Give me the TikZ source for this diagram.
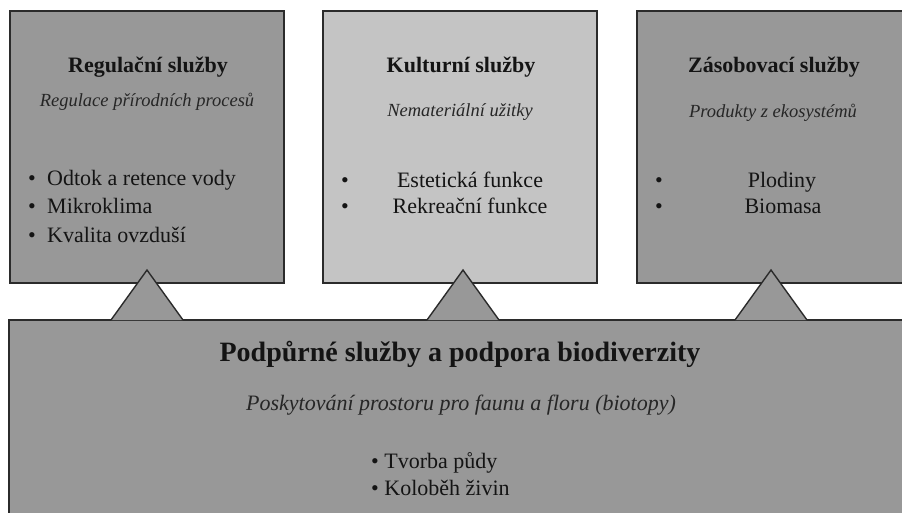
\documentclass[tikz,border=0pt]{standalone}
\usepackage{fontspec}
\setmainfont{Liberation Serif}
\usetikzlibrary{calc}
\definecolor{boxgray}{HTML}{989898}
\definecolor{lightgray}{HTML}{C4C4C4}
\definecolor{edgecol}{HTML}{2B2B2B}
\definecolor{txt}{HTML}{141414}
\definecolor{subtxt}{HTML}{262626}
\tikzset{
  svcbox/.style={draw=edgecol, line width=1.5pt, fill=boxgray, rectangle, minimum width=274pt, minimum height=272pt, inner sep=0pt},
  tri/.style={draw=edgecol, line width=1.4pt, fill=boxgray, line join=miter},
  ttl/.style={anchor=base, text=txt, inner sep=0pt, font=\fontsize{22}{26}\selectfont\bfseries},
  sub/.style={anchor=base, text=subtxt, inner sep=0pt, font=\fontsize{18.5}{22}\selectfont\itshape},
  itm/.style={anchor=base, text=txt, inner sep=0pt, font=\fontsize{22}{26}\selectfont},
  itml/.style={anchor=base west, text=txt, inner sep=0pt, font=\fontsize{22}{26}\selectfont},
}
\begin{document}
\begin{tikzpicture}[x=1pt,y=-1pt]
\useasboundingbox (0,0) rectangle (902,512);
\clip (0,0) rectangle (902,512);
\fill[white] (0,0) rectangle (902,512);
% upper boxes
\node[svcbox] (reg) at (147,147) {};
\node[svcbox, fill=lightgray] (kul) at (460,147) {};
\node[svcbox] (zas) at (774,147) {};
% bottom box
\node[svcbox, minimum width=905pt, minimum height=240pt] (pod) at (461.5,440) {};
% triangles
\coordinate (a1) at (147,270);
\coordinate (a2) at (463,270);
\coordinate (a3) at (771,270);
\draw[tri] ($(a1)+(-36,50)$) -- (a1) -- ($(a1)+(36,50)$);
\draw[tri] ($(a2)+(-36,50)$) -- (a2) -- ($(a2)+(36,50)$);
\draw[tri] ($(a3)+(-36,50)$) -- (a3) -- ($(a3)+(36,50)$);
% box 1 text
\node[ttl] (t1) at (148,72) {Regulační služby};
\node[sub] (s1) at (147,106) {Regulace přírodních procesů};
\node[itm] (b1a) at (32,185) {•};
\node[itm] (b1b) at (32,213) {•};
\node[itm] (b1c) at (32,242) {•};
\node[itml] (i1a) at (47,185) {Odtok a retence vody};
\node[itml] (i1b) at (47,213) {Mikroklima};
\node[itml] (i1c) at (47,242) {Kvalita ovzduší};
% box 2 text
\node[ttl] (t2) at (461,72) {Kulturní služby};
\node[sub] (s2) at (460,116) {Nemateriální užitky};
\node[itm] (b2a) at (345,187) {•};
\node[itm] (b2b) at (345,213) {•};
\node[itm] (i2a) at (470,187) {Estetická funkce};
\node[itm] (i2b) at (470,213) {Rekreační funkce};
% box 3 text
\node[ttl] (t3) at (774,72) {Zásobovací služby};
\node[sub] (s3) at (773,117) {Produkty z ekosystémů};
\node[itm] (b3a) at (659,187) {•};
\node[itm] (b3b) at (659,213) {•};
\node[itm] (i3a) at (782,187) {Plodiny};
\node[itm] (i3b) at (783,213) {Biomasa};
% bottom text
\node[ttl, font=\fontsize{28}{32}\selectfont\bfseries] (t4) at (460,361) {Podpůrné služby a podpora biodiverzity};
\node[sub, font=\fontsize{22}{26}\selectfont\itshape] (s4) at (461,410) {Poskytování prostoru pro faunu a floru (biotopy)};
\node[itml] (i4a) at (371,468) {• Tvorba půdy};
\node[itml] (i4b) at (371,495) {• Koloběh živin};
\end{tikzpicture}
\end{document}
